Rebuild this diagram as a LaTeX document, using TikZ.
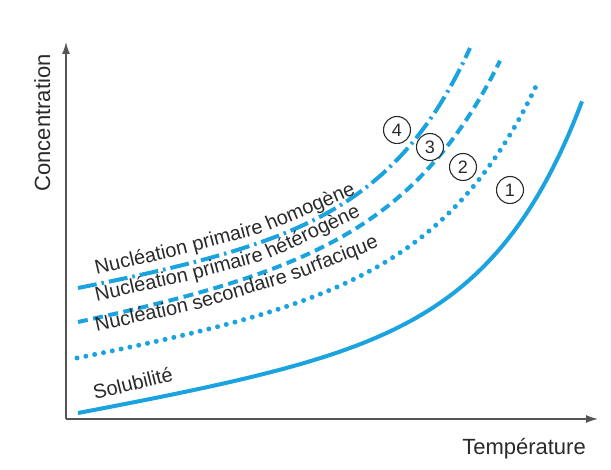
\documentclass[tikz,border=0pt]{standalone}
\usepackage{fontspec}
\setmainfont{Liberation Sans}
\usetikzlibrary{arrows.meta}
\definecolor{curveblue}{HTML}{1AA3DF}
\definecolor{axisgray}{HTML}{555555}
\definecolor{textgray}{HTML}{2A2A2A}
\begin{document}
\begin{tikzpicture}[x=1pt,y=-1pt,
  axis/.style={draw=axisgray, line width=1.4pt, -{Latex[length=12pt,width=8pt]}},
  curve/.style={draw=curveblue, line width=4pt},
  solidcurve/.style={curve},
  dotcurve/.style={draw=curveblue, line width=5pt, line cap=round, dash pattern=on 0pt off 9pt},
  dashcurve/.style={curve, dash pattern=on 10pt off 5.5pt},
  dashdotcurve/.style={curve, dash pattern=on 19pt off 5pt on 2.5pt off 5pt},
  lbl/.style={font=\fontsize{20}{24}\selectfont, text=textgray, inner sep=0pt, anchor=base west},
  axlbl/.style={font=\fontsize{22}{26}\selectfont, text=textgray, inner sep=0pt, anchor=base},
  num/.style={circle, draw=textgray, fill=white, line width=1.1pt, minimum size=27pt, inner sep=0pt, font=\fontsize{18}{20}\selectfont, text=textgray}
]
\useasboundingbox (0,0) rectangle (611,470);
% axes
\coordinate (o) at (66,419);
\coordinate (ytip) at (66,42);
\coordinate (xtip) at (598,419);
\draw[axis] (o) -- (ytip);
\draw[axis] (o) -- (xtip);
\node[axlbl, rotate=90] (ylab) at (50,123) {Concentration};
\node[axlbl] (xlab) at (524,455) {Température};
% curves
\draw[solidcurve] plot[domain=78:582, samples=120, smooth] (\x, {413 - 0.18*(\x-78) - 0.82*(exp((\x-78)/90)-1)});
\draw[dotcurve] plot[domain=77:538, samples=120, smooth] (\x, {358 - 0.18*(\x-77) - 1.94*(exp((\x-77)/100)-1)});
\draw[dashcurve] plot[domain=78:500, samples=120, smooth] (\x, {322 - 0.19*(\x-78) - 2.7*(exp((\x-78)/100)-1)});
\draw[dashdotcurve] plot[domain=78:470, samples=120, smooth] (\x, {288 - 0.18*(\x-78) - 1.7*(exp((\x-78)/85)-1)});
% labels: homogene
\node[lbl, rotate=13.5] (hom1) at (96.5,275) {Nucléation};
\node[lbl, rotate=15] (hom2) at (194,251.5) {primaire};
\node[lbl, rotate=23] (hom3) at (269,231) {homogène};
% labels: heterogene
\node[lbl, rotate=12.5] (het1) at (96.5,301.5) {Nucléation};
\node[lbl, rotate=15.5] (het2) at (194.2,279.8) {primaire};
\node[lbl, rotate=25] (het3) at (269.2,258.9) {hétérogène};
% labels: secondaire
\node[lbl, rotate=12.3] (sec1) at (96.5,331.5) {Nucléation};
\node[lbl, rotate=16.5] (sec2) at (194.2,310.2) {secondaire};
\node[lbl, rotate=21.5] (sec3) at (293.3,280.8) {surfacique};
% label: solubilite
\node[lbl, rotate=14] (sol) at (95,400) {Solubilité};
% numbers
\node[num] (n4) at (397,130) {4};
\node[num] (n3) at (430,147) {3};
\node[num] (n2) at (463,167) {2};
\node[num] (n1) at (510,190) {1};
\end{tikzpicture}
\end{document}
